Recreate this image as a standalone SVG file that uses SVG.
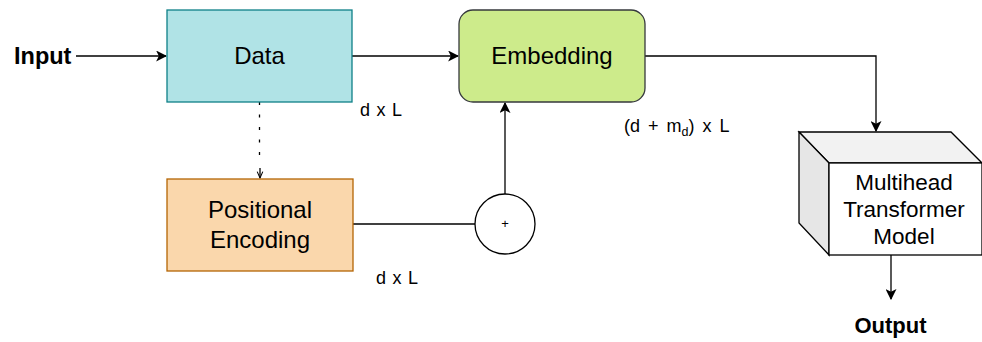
<svg xmlns="http://www.w3.org/2000/svg" width="982" height="342" viewBox="0 0 982 342">
  <style>
    text { font-family: "Liberation Sans", Arial, sans-serif; fill: #000; }
    .node { font-size: 24px; text-anchor: middle; }
    .cube { font-size: 22.5px; text-anchor: middle; }
    .lbl { font-size: 18px; word-spacing: 1.5px; }
    .bold { font-weight: bold; }
    .edge { fill: none; stroke: #000; stroke-width: 1.3; }
  </style>
  <defs>
    <marker id="arrow" viewBox="0 0 10 10" refX="9" refY="5" markerWidth="11" markerHeight="11" markerUnits="userSpaceOnUse" orient="auto">
      <path d="M0,0 L10,5 L0,10 L2.5,5 Z" fill="#000"/>
    </marker>
    <marker id="openarrow" viewBox="0 0 10 10" refX="9" refY="5" markerWidth="8" markerHeight="8" markerUnits="userSpaceOnUse" orient="auto">
      <path d="M1,1.5 L9,5 L1,8.5" fill="none" stroke="#000" stroke-width="1.3"/>
    </marker>
  </defs>

  <g id="connectors">
    <path class="edge" d="M76,56 H166" marker-end="url(#arrow)"/>
    <path class="edge" d="M352,56 H458" marker-end="url(#arrow)"/>
    <path class="edge" d="M645,56 H876 V131" marker-end="url(#arrow)"/>
    <path class="edge" d="M259.5,102 V160" stroke-dasharray="3 9.5" stroke-width="3"/>
    <path class="edge" d="M260,168 V178" marker-end="url(#openarrow)"/>
    <path class="edge" d="M353,224 H475"/>
    <path class="edge" d="M505,194 V103" marker-end="url(#arrow)"/>
    <path class="edge" d="M891,255 V299" marker-end="url(#arrow)"/>
  </g>

  <g id="input">
    <text class="bold" x="14" y="64" font-size="23.5">Input</text>
  </g>

  <g id="data">
    <rect x="167" y="10" width="185" height="92" fill="#b0e3e6" stroke="#0e8088" stroke-width="1.3"/>
    <text class="node" x="259.5" y="64">Data</text>
  </g>

  <g id="embedding">
    <rect x="459" y="10" width="186" height="92" rx="14" fill="#cdeb8b" stroke="#36393d" stroke-width="1.3"/>
    <text class="node" x="552" y="64">Embedding</text>
  </g>

  <g id="positional-encoding">
    <rect x="167" y="179" width="186" height="92" fill="#fad7ac" stroke="#b46504" stroke-width="1.3"/>
    <text class="node" x="260" y="218">Positional</text>
    <text class="node" x="260" y="248">Encoding</text>
  </g>

  <g id="sum">
    <circle cx="505" cy="224" r="30" fill="#fff" stroke="#000" stroke-width="1.3"/>
    <text x="505" y="228" font-size="13" text-anchor="middle">+</text>
  </g>

  <g id="transformer">
    <polygon points="799,132 951,132 982,163 829,163" fill="#f2f2f2" stroke="#000" stroke-width="1.3"/>
    <polygon points="799,132 829,163 829,255 799,223" fill="#e6e6e6" stroke="#000" stroke-width="1.3"/>
    <rect x="829" y="163" width="153" height="92" fill="#fff" stroke="#000" stroke-width="1.3"/>
    <text class="cube" x="904" y="190">Multihead</text>
    <text class="cube" x="904" y="217">Transformer</text>
    <text class="cube" x="904" y="244">Model</text>
  </g>

  <g id="output">
    <text class="bold" x="890.5" y="333" font-size="22" text-anchor="middle">Output</text>
  </g>

  <g id="labels">
    <text class="lbl" x="360" y="116">d x L</text>
    <text class="lbl" x="376" y="284">d x L</text>
    <text class="lbl" x="624" y="132" style="word-spacing:3px">(d + m<tspan font-size="12.5" dy="4">d</tspan><tspan dy="-4">) x L</tspan></text>
  </g>
</svg>
